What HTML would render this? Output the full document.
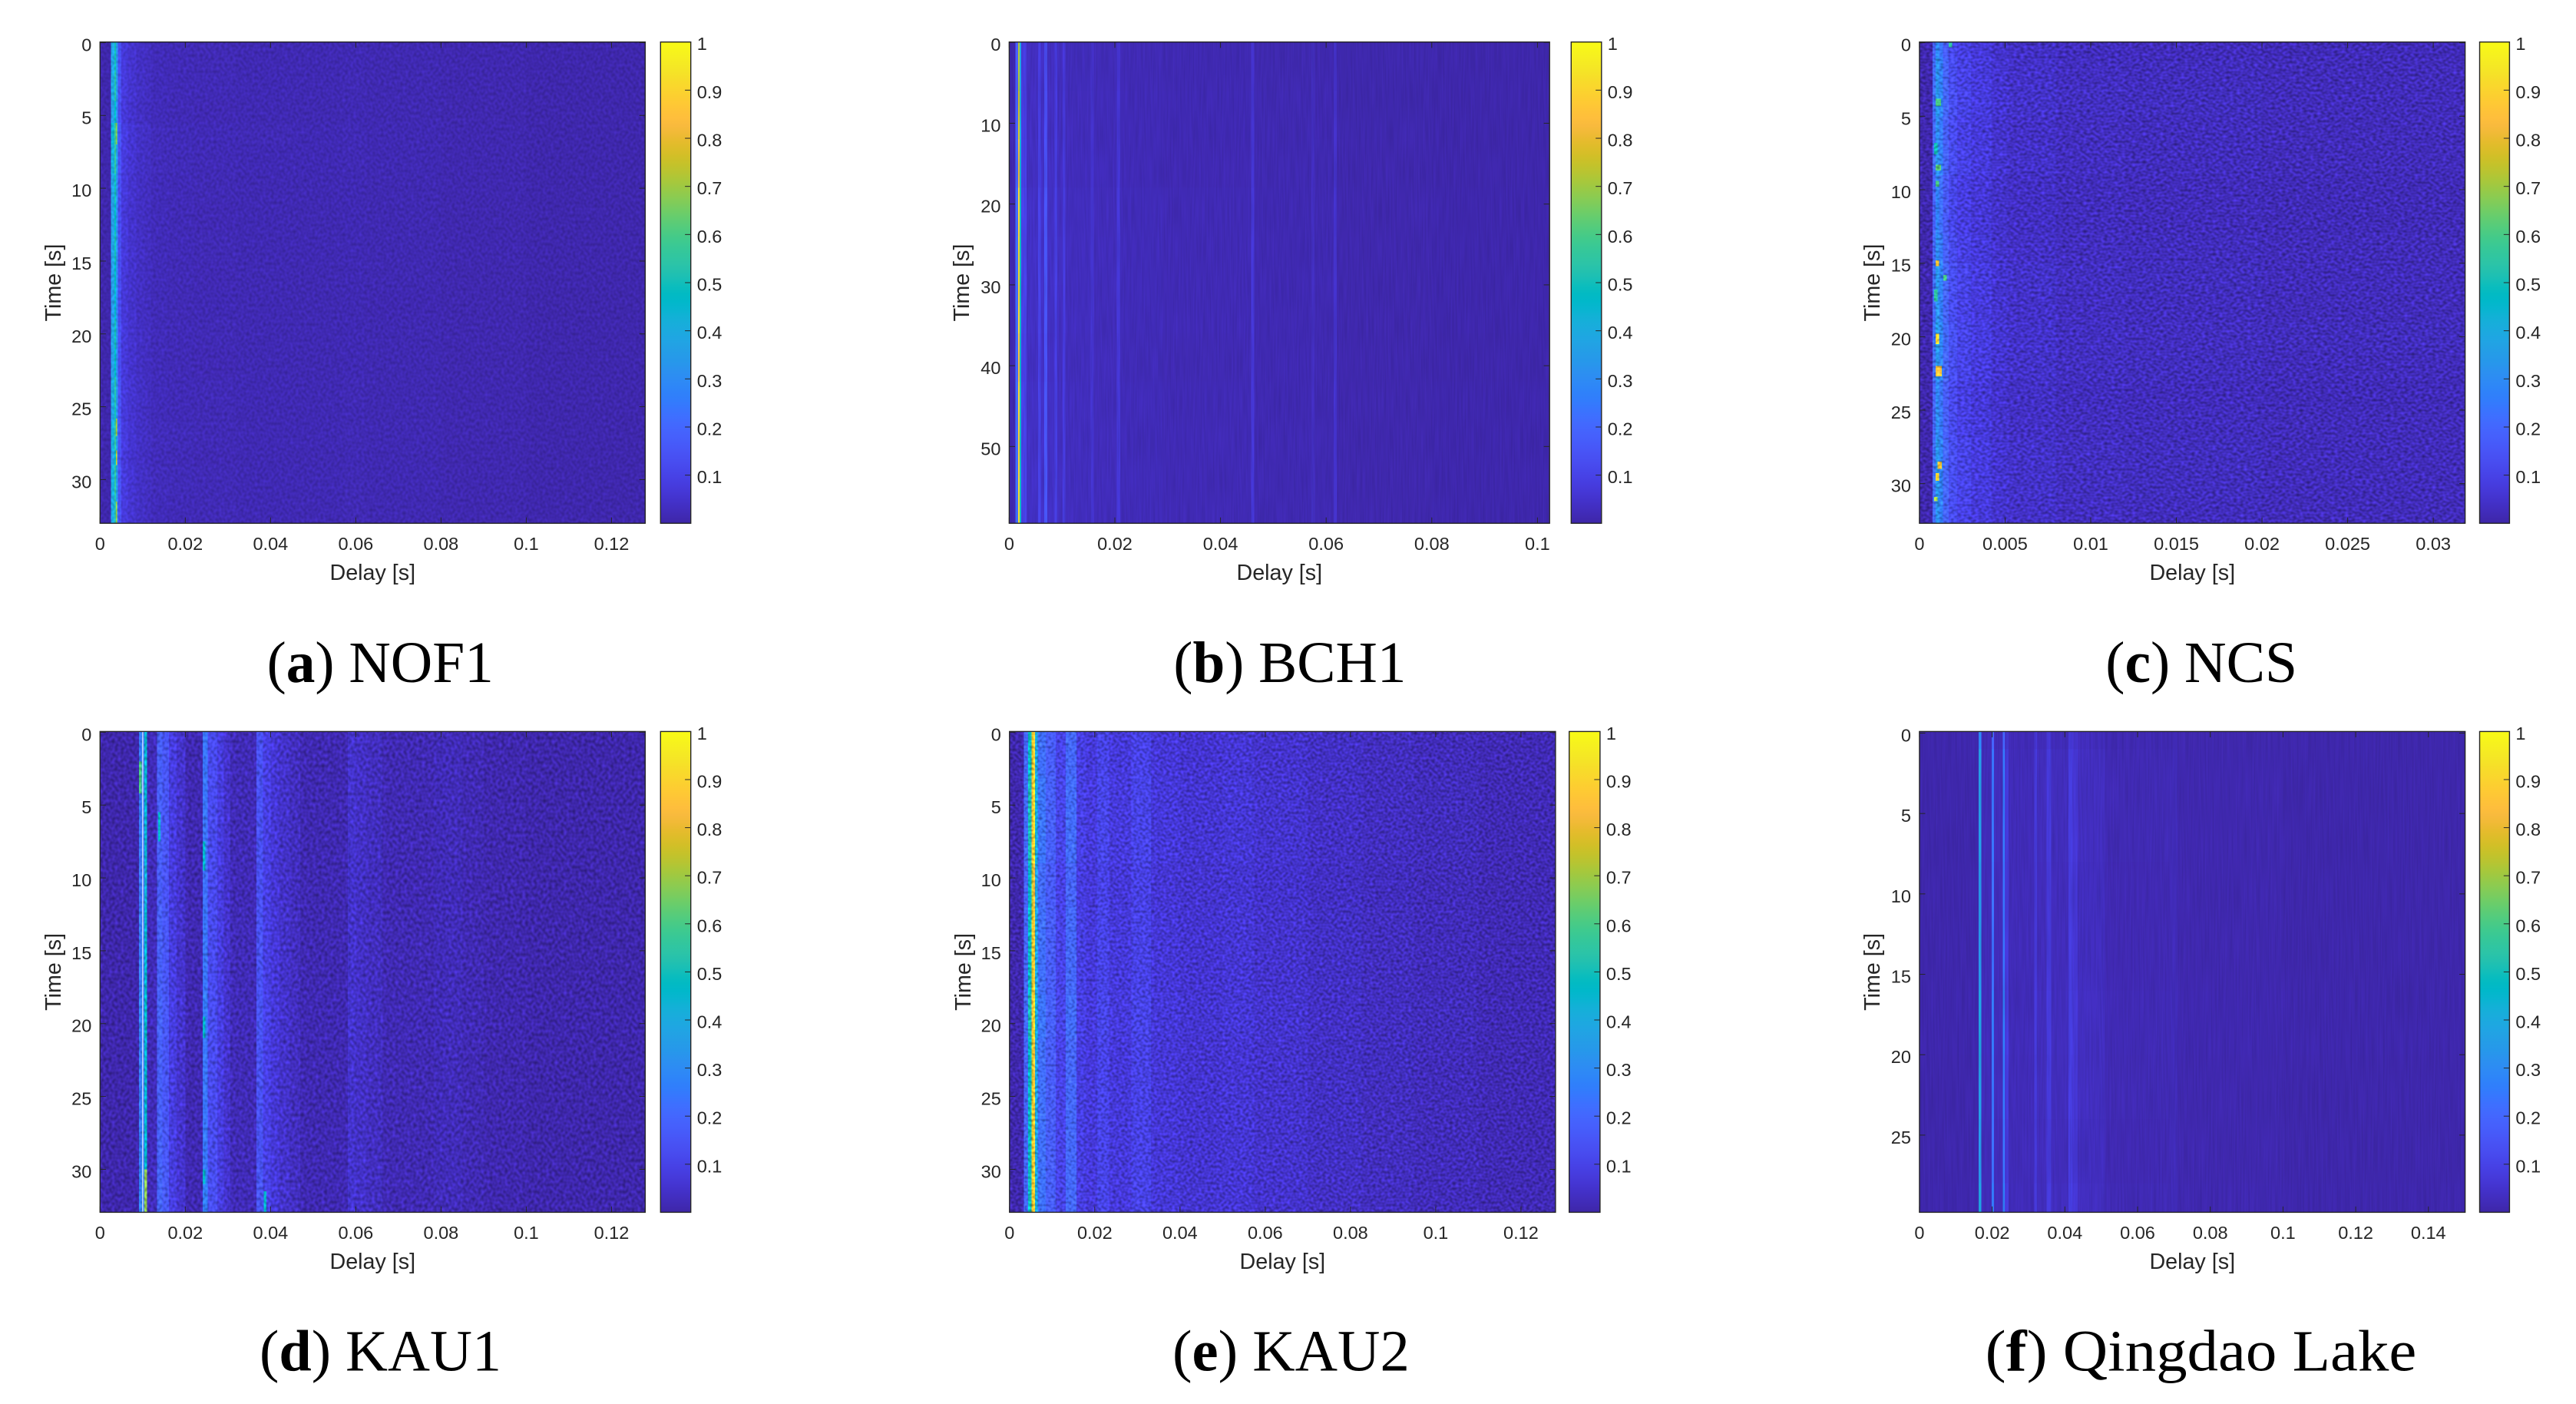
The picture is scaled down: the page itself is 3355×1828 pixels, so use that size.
<!DOCTYPE html>
<html lang="en">
<head>
<meta charset="utf-8">
<title>Channel impulse responses</title>
<style>
  html, body { margin: 0; padding: 0; background: #ffffff; }
  body { width: 3355px; height: 1828px; overflow: hidden; }
  svg { display: block; }
  .tick { font-family: "Liberation Sans", sans-serif; font-size: 23.5px; fill: #262626; }
  .axis-title { font-family: "Liberation Sans", sans-serif; font-size: 28.7px; fill: #262626; }
  .caption { font-family: "Liberation Serif", serif; font-size: 76px; fill: #000000; }
</style>
</head>
<body>
<svg id="figure" xmlns="http://www.w3.org/2000/svg" width="3355" height="1828" viewBox="0 0 3355 1828">
  <defs id="defs"></defs>
</svg>
<script>
// ---------- Data: each heatmap is a set of delay bands ----------
const nof1Delays = [0,.0026,.0034,.0037,.0042,.005,.0065,.0085,.0105,.012,.016,.022,.032,.045,.057,.062,.08,.1,.128];
const nof1Levels = [.004,.38,.5,.33,.13,.07,.05,.035,.03,.02,.016,.014,.012,.011,.013,.01,.007,.003];
const nof1RowTimes = [0,2,4,5.5,7,9,11,13,15,17,19,21,23,25,26,28,29,31,33];
const nof1RowGains = [1,1.05,.95,1.15,1.1,1,.95,1,.95,.9,1,.95,1.05,1,1.1,.95,1.1,1.05];
const nof1Spots = [[.0037,.004,5.5,7,.68],[.0037,.004,25.8,27,.72],[.0037,.004,28,29,.75],[.0037,.004,31.5,33,.7]];
const nof1XTicks = [0,.02,.04,.06,.08,.1,.12];
const nof1XLabels = ['0','0.02','0.04','0.06','0.08','0.1','0.12'];
const nof1YTicks = [0,5,10,15,20,25,30];

const bch1Delays = [0,.0012,.0017,.002,.0023,.0033,.0055,.006,.0066,.0072,.0086,.0091,.0101,.0106,.0154,.016,.0204,.021,.029,.0458,.0464,.0572,.0578,.0614,.062,.08,.1023];
const bch1Levels = [.006,.2,.85,.45,.09,.035,.09,.04,.14,.035,.08,.03,.07,.025,.05,.022,.06,.018,.014,.06,.011,.03,.01,.045,.006,.004];
const bch1RowTimes = [0,6,12,18,24,30,36,42,48,54,59.5];
const bch1RowGains = [.85,.9,.95,1.05,1.08,1.05,1,1.05,1.05,1.08];
const bch1Spots = [];
const bch1XTicks = [0,.02,.04,.06,.08,.1];
const bch1XLabels = ['0','0.02','0.04','0.06','0.08','0.1'];
const bch1YTicks = [0,10,20,30,40,50];

const ncsDelays = [0,.00077,.00095,.00115,.00137,.0017,.0022,.003,.0042,.0052,.008,.012,.02,.0319];
const ncsLevels = [.006,.2,.3,.25,.18,.12,.09,.07,.05,.04,.03,.026,.022];
const ncsRowTimes = [0,1,3,5,7,9,11,13,15,17,19,21,23,25,27,29,31,32.7];
const ncsRowGains = [.95,1.05,1.1,1,1.05,.9,.9,1,1.1,1.05,1.15,1.1,.95,1,1.1,1.1,1.05];
const ncsSpots = [[.00095,.00115,19.8,20.5,.9],[.00095,.0013,22,22.7,.85],[.00095,.00115,14.8,15.2,.8],[.00095,.00115,29.3,29.8,.9],[.00105,.0013,28.5,29,.8],[.00095,.00125,3.8,4.3,.6],[.00095,.00125,8.3,8.7,.62],[.00095,.00115,9.4,9.8,.6],[.00085,.00105,30.9,31.2,.7],[.00085,.00105,16.8,17.6,.55],[.00085,.00105,6.8,7.6,.5],[.0014,.0016,15.8,16.2,.6],[.0017,.0019,0,.3,.55]];
const ncsXTicks = [0,.005,.01,.015,.02,.025,.03];
const ncsXLabels = ['0','0.005','0.01','0.015','0.02','0.025','0.03'];
const ncsYTicks = [0,5,10,15,20,25,30];

const kau1Delays = [0,.0091,.0099,.0104,.011,.0134,.0146,.0162,.018,.02,.0241,.0253,.0275,.029,.0306,.0367,.0382,.04,.042,.0445,.047,.0581,.06,.0625,.0662,.0783,.081,.085,.09,.1,.128];
const kau1Levels = [.004,.25,.22,.45,.02,.18,.15,.08,.05,.012,.24,.12,.08,.05,.018,.14,.09,.065,.045,.03,.012,.05,.04,.03,.014,.02,.022,.014,.008,.004];
const kau1RowTimes = [0,3,6,9,12,15,18,21,24,27,30,32.95];
const kau1RowGains = [1,1,.98,.95,1,1,1.05,1,1,1.02,1.08];
const kau1Spots = [[.0091,.0098,2,4.2,.6],[.0104,.011,30,32.95,.68],[.0136,.0142,5.5,7.5,.45],[.0241,.0247,7.5,9.5,.45],[.0241,.0247,19.5,21,.45],[.0241,.0247,30,31,.45],[.0384,.039,31.5,32.95,.45]];
const kau1LightLineDelays = [.0099];
const kau1XTicks = [0,.02,.04,.06,.08,.1,.12];
const kau1XLabels = ['0','0.02','0.04','0.06','0.08','0.1','0.12'];
const kau1YTicks = [0,5,10,15,20,25,30];

const kau2Delays = [0,.0034,.0044,.0052,.0055,.006,.0066,.0085,.0108,.0132,.0157,.018,.0206,.0234,.0286,.0332,.04,.05,.0574,.07,.0826,.095,.11,.1281];
const kau2Levels = [.006,.2,.48,.78,.88,.4,.22,.17,.1,.2,.085,.07,.1,.07,.095,.065,.055,.06,.05,.038,.03,.024,.016];
const kau2RowTimes = [0,3,6,9,12,15,18,21,24,27,30,32.95];
const kau2RowGains = [1,1.05,1.05,.95,1,1,1.05,.98,1,1,1.02];
const kau2Spots = [];
const kau2XTicks = [0,.02,.04,.06,.08,.1,.12];
const kau2XLabels = ['0','0.02','0.04','0.06','0.08','0.1','0.12'];
const kau2YTicks = [0,5,10,15,20,25,30];

const lakeDelays = [0,.0163,.017,.0199,.0205,.0229,.0235,.0245,.0316,.0323,.035,.0362,.041,.042,.0435,.051,.069,.071,.1,.1501];
const lakeLevels = [.004,.36,.02,.24,.025,.25,.07,.02,.07,.025,.07,.025,.08,.06,.03,.014,.02,.008,.004];
const lakeRowTimes = [0,1,4,8,12,16,20,24,28,29.8];
const lakeRowGains = [.8,1,1,.95,.95,1.05,1,.95,1.05];
const lakeSpots = [];
const lakeXTicks = [0,.02,.04,.06,.08,.1,.12,.14];
const lakeXLabels = ['0','0.02','0.04','0.06','0.08','0.1','0.12','0.14'];
const lakeYTicks = [0,5,10,15,20,25];

const colorbarTicks = [.1,.2,.3,.4,.5,.6,.7,.8,.9,1];
const colorbarLabels = ['0.1','0.2','0.3','0.4','0.5','0.6','0.7','0.8','0.9','1'];

// Parula palette (style, not data)
const parula = [[.2422,.1504,.6603],[.2504,.165,.7076],[.2578,.1818,.7511],[.2647,.1978,.7952],[.2706,.2147,.8364],[.2751,.2342,.871],[.2783,.2559,.8991],[.2803,.2782,.9221],[.2813,.3006,.9414],[.281,.3228,.9579],[.2795,.3447,.9717],[.276,.3667,.9829],[.2699,.3892,.9906],[.2602,.4123,.9952],[.244,.4358,.9988],[.2206,.4603,.9973],[.1963,.4847,.9892],[.1834,.5074,.9798],[.1786,.5289,.9682],[.1764,.5499,.952],[.1687,.5703,.9359],[.154,.5902,.9218],[.146,.6091,.9079],[.138,.6276,.8973],[.1248,.6459,.8883],[.1113,.6635,.8763],[.0952,.6798,.8598],[.0689,.6948,.8394],[.0297,.7082,.8163],[.0036,.7203,.7917],[.0067,.7312,.766],[.0433,.7411,.7394],[.0964,.75,.712],[.1408,.7584,.6842],[.1717,.767,.6554],[.1938,.7758,.6251],[.2161,.7843,.5923],[.247,.7918,.5567],[.2906,.7973,.5188],[.3406,.8008,.4789],[.3909,.8029,.4354],[.4456,.8024,.3909],[.5044,.7993,.348],[.5616,.7942,.3045],[.6174,.7876,.2612],[.672,.7793,.2227],[.7242,.7698,.191],[.7738,.7598,.1646],[.8203,.7498,.1535],[.8634,.7406,.1596],[.9035,.733,.1774],[.9393,.7288,.21],[.9728,.7298,.2394],[.9956,.7434,.2371],[.997,.7659,.2199],[.9952,.7893,.2028],[.9892,.8136,.1885],[.9786,.8386,.1766],[.9676,.8639,.1643],[.961,.889,.1537],[.9597,.9135,.1423],[.9628,.9373,.1265],[.9691,.9606,.1064],[.9769,.9839,.0805]];

const NS = 'http://www.w3.org/2000/svg';
const INK = '#262626';
const svg = document.getElementById('figure');
const defs = document.getElementById('defs');

const panels = [
  { id:'nof1', letter:'a', title:' NOF1', delays:nof1Delays, levels:nof1Levels, rowTimes:nof1RowTimes, rowGains:nof1RowGains, spots:nof1Spots, lightLines:[], xTicks:nof1XTicks, xLabels:nof1XLabels, yTicks:nof1YTicks,
    left:130.3, right:840.3, top:54.7, bottom:681.3, xMax:.1279, yMin:-.04, yMax:33, barLeft:860.3, barRight:899.7, timeX:79, capLeft:347.6, capRight:642.9, capBase:888, grainFreq:'0.28 0.24', k1:.45, k2:.78 },
  { id:'bch1', letter:'b', title:' BCH1', delays:bch1Delays, levels:bch1Levels, rowTimes:bch1RowTimes, rowGains:bch1RowGains, spots:bch1Spots, lightLines:[], xTicks:bch1XTicks, xLabels:bch1XLabels, yTicks:bch1YTicks,
    left:1314.4, right:2018.2, top:54.7, bottom:681.3, xMax:.1023, yMin:-.05, yMax:59.5, barLeft:2046.3, barRight:2085.8, timeX:1262, capLeft:1528.4, capRight:1831.4, capBase:888, grainFreq:'0.5 0.02', k1:.2, k2:.9 },
  { id:'ncs', letter:'c', title:' NCS', delays:ncsDelays, levels:ncsLevels, rowTimes:ncsRowTimes, rowGains:ncsRowGains, spots:ncsSpots, lightLines:[], xTicks:ncsXTicks, xLabels:ncsXLabels, yTicks:ncsYTicks,
    left:2499.9, right:3210.6, top:54.7, bottom:681.3, xMax:.03186, yMin:-.05, yMax:32.7, barLeft:3229.5, barRight:3268.4, timeX:2448, capLeft:2742.3, capRight:2992, capBase:888, grainFreq:'0.22 0.3', k1:.95, k2:.52 },
  { id:'kau1', letter:'d', title:' KAU1', delays:kau1Delays, levels:kau1Levels, rowTimes:kau1RowTimes, rowGains:kau1RowGains, spots:kau1Spots, lightLines:kau1LightLineDelays, xTicks:kau1XTicks, xLabels:kau1XLabels, yTicks:kau1YTicks,
    left:130.3, right:840.3, top:952.4, bottom:1578.4, xMax:.1279, yMin:-.05, yMax:32.95, barLeft:860.3, barRight:899.7, timeX:79, capLeft:338, capRight:653, capBase:1784.5, grainFreq:'0.26 0.22', k1:.85, k2:.57 },
  { id:'kau2', letter:'e', title:' KAU2', delays:kau2Delays, levels:kau2Levels, rowTimes:kau2RowTimes, rowGains:kau2RowGains, spots:kau2Spots, lightLines:[], xTicks:kau2XTicks, xLabels:kau2XLabels, yTicks:kau2YTicks,
    left:1314.8, right:2025.9, top:952.4, bottom:1578.4, xMax:.1281, yMin:-.05, yMax:32.95, barLeft:2043.7, barRight:2083.9, timeX:1264, capLeft:1527, capRight:1835.8, capBase:1784.5, grainFreq:'0.26 0.28', k1:.95, k2:.52 },
  { id:'qingdao-lake', letter:'f', title:' Qingdao Lake', delays:lakeDelays, levels:lakeLevels, rowTimes:lakeRowTimes, rowGains:lakeRowGains, spots:lakeSpots, lightLines:[], xTicks:lakeXTicks, xLabels:lakeXLabels, yTicks:lakeYTicks,
    left:2499.9, right:3210.6, top:952.4, bottom:1578.4, xMax:.1501, yMin:-.1, yMax:29.8, barLeft:3229.5, barRight:3268.4, timeX:2448, capLeft:2585.7, capRight:3147.3, capBase:1784.5, grainFreq:'0.5 0.015', k1:.2, k2:.9 }
];

function make(tag, parent) {
  const el = document.createElementNS(NS, tag);
  parent.appendChild(el);
  return el;
}

function setAll(el, attrs) {
  for (const key in attrs) el.setAttribute(key, attrs[key]);
}

function colorOf(value) {
  const v = Math.max(0, Math.min(1, value)) * (parula.length - 1);
  const i = Math.min(parula.length - 2, Math.floor(v));
  const f = v - i;
  const c = parula[i].map((p, k) => Math.round(255 * (p + (parula[i + 1][k] - p) * f)));
  return 'rgb(' + c.join(',') + ')';
}

// Colorbar gradient built from the palette
const gradient = make('linearGradient', defs);
setAll(gradient, { id:'parula-gradient', x1:0, y1:1, x2:0, y2:0 });
parula.forEach(function (p, i) {
  const stop = make('stop', gradient);
  setAll(stop, { offset:(i / (parula.length - 1)), 'stop-color':colorOf(i / (parula.length - 1)) });
});

// Decorative speckle texture only; it carries no chart values.
function addGrainFilter(p) {
  const f = make('filter', defs);
  setAll(f, { id:'grain-' + p.id, x:0, y:0, width:1, height:1, 'color-interpolation-filters':'sRGB' });
  const t = make('feTurbulence', f);
  setAll(t, { type:'fractalNoise', baseFrequency:p.grainFreq, numOctaves:1, seed:7, result:'n' });
  const m = make('feColorMatrix', f);
  setAll(m, { in:'n', type:'matrix', values:'1 0 0 0 0 1 0 0 0 0 1 0 0 0 0 0 0 0 0 1', result:'g' });
  const c = make('feComposite', f);
  setAll(c, { in:'SourceGraphic', in2:'g', operator:'arithmetic', k1:p.k1, k2:p.k2, k3:0, k4:0 });
}

function addLine(parent, x1, y1, x2, y2) {
  const line = make('line', parent);
  setAll(line, { x1:x1, y1:y1, x2:x2, y2:y2, stroke:INK, 'stroke-width':1 });
  return line;
}

function drawPanel(p) {
  const xScale = function (d) { return p.left + (d / p.xMax) * (p.right - p.left); };
  const yScale = function (t) { return p.top + ((t - p.yMin) / (p.yMax - p.yMin)) * (p.bottom - p.top); };
  const barY = function (v) { return p.bottom - v * (p.bottom - p.top); };
  const xLabelBase = p.bottom + 34.7;

  const group = make('g', svg);
  
  

  addGrainFilter(p);

  const heat = make('g', group);
  
  
  setAll(heat, { filter:'url(#grain-' + p.id + ')', 'shape-rendering':'crispEdges' });

  for (let j = 0; j < p.rowGains.length; j++) {
    const y0 = j === 0 ? p.top : yScale(p.rowTimes[j]);
    const y1 = j === p.rowGains.length - 1 ? p.bottom : yScale(p.rowTimes[j + 1]);
    for (let i = 0; i < p.levels.length; i++) {
      const x0 = i === 0 ? p.left : xScale(p.delays[i]);
      const x1 = i === p.levels.length - 1 ? p.right : xScale(p.delays[i + 1]);
      const cell = make('rect', heat);
      
      
      setAll(cell, { x:x0, y:y0, width:x1 - x0, height:y1 - y0, fill:colorOf(p.levels[i] * p.rowGains[j]) });
    }
  }

  p.spots.forEach(function (s) {
    const spot = make('rect', heat);
    
    
    setAll(spot, { x:xScale(s[0]), y:yScale(s[2]), width:xScale(s[1]) - xScale(s[0]), height:yScale(s[3]) - yScale(s[2]), fill:colorOf(s[4]) });
  });

  p.lightLines.forEach(function (d) {
    const light = make('rect', group);
    
    
    setAll(light, { x:xScale(d), y:p.top, width:1.3, height:p.bottom - p.top, fill:'#d8e8ff' });
  });

  const frame = make('rect', group);
  
  
  setAll(frame, { x:p.left, y:p.top, width:p.right - p.left, height:p.bottom - p.top, fill:'none', stroke:INK, 'stroke-width':1.4 });

  p.xTicks.forEach(function (d, i) {
    const x = xScale(d);
    const low = addLine(group, x, p.bottom, x, p.bottom - 7.6);
    
    
    const high = addLine(group, x, p.top, x, p.top + 7.6);
    
    
    const label = make('text', group);
    
    
    setAll(label, { class:'tick', x:x, y:xLabelBase, 'text-anchor':'middle' });
    label.textContent = p.xLabels[i];
  });

  p.yTicks.forEach(function (t) {
    const y = yScale(t);
    const near = addLine(group, p.left, y, p.left + 7.6, y);
    
    
    const far = addLine(group, p.right, y, p.right - 7.6, y);
    
    
    const label = make('text', group);
    
    
    setAll(label, { class:'tick', x:p.left - 11, y:y + 11, 'text-anchor':'end' });
    label.textContent = String(t);
  });

  const xTitle = make('text', group);
  
  
  setAll(xTitle, { class:'axis-title', x:(p.left + p.right) / 2, y:p.bottom + 73.8, 'text-anchor':'middle' });
  xTitle.textContent = 'Delay [s]';

  const yTitle = make('text', group);
  
  
  setAll(yTitle, { class:'axis-title', 'text-anchor':'middle', transform:'translate(' + p.timeX + ' ' + ((p.top + p.bottom) / 2) + ') rotate(-90)' });
  yTitle.textContent = 'Time [s]';

  const bar = make('rect', group);
  
  
  setAll(bar, { x:p.barLeft, y:p.top, width:p.barRight - p.barLeft, height:p.bottom - p.top, fill:'url(#parula-gradient)', stroke:INK, 'stroke-width':1.4 });

  colorbarTicks.forEach(function (v, i) {
    const y = barY(v);
    if (v < 1) {
      const tick = addLine(group, p.barRight - 7.6, y, p.barRight, y);
      
      
    }
    const label = make('text', group);
    
    
    setAll(label, { class:'tick', x:p.barRight + 8, y:y + 10.5 });
    label.textContent = colorbarLabels[i];
  });

  const cap = make('text', group);
  
  
  setAll(cap, { class:'caption', x:p.capLeft, y:p.capBase, textLength:p.capRight - p.capLeft, lengthAdjust:'spacingAndGlyphs' });
  cap.appendChild(document.createTextNode('('));
  const bold = make('tspan', cap);
  
  
  bold.setAttribute('font-weight', '700');
  bold.textContent = p.letter;
  cap.appendChild(document.createTextNode(')' + p.title));
}

panels.forEach(drawPanel);
</script>
</body>
</html>
